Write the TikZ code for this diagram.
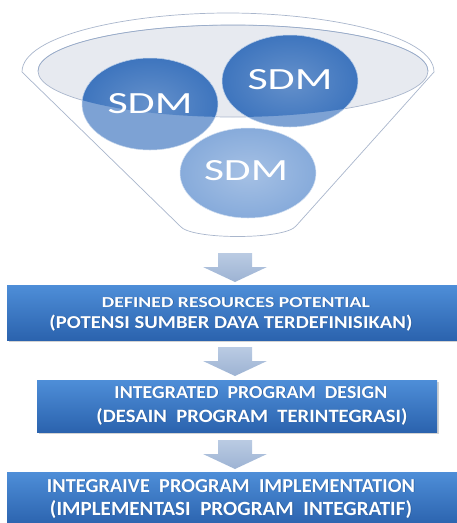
\documentclass[tikz,border=0pt]{standalone}
\usepackage{fontspec}
\setmainfont{Carlito}
\usepackage{graphicx}
\usetikzlibrary{shadows,fadings}
\definecolor{funnelline}{HTML}{A9B6CC}
\definecolor{innerfill}{HTML}{E7EAF0}
\definecolor{sdmdark}{HTML}{3E75BE}
\definecolor{sdmlight}{HTML}{7DA2D4}
\definecolor{sdmpale}{HTML}{8FB1DE}
\definecolor{boxtop}{HTML}{4E8ED8}
\definecolor{boxbot}{HTML}{2B63AE}
\definecolor{arrowtop}{HTML}{BACBE3}
\definecolor{arrowbot}{HTML}{9DB3D3}
\definecolor{textshade}{HTML}{1F4C86}
\newcommand\fitt[3]{\resizebox{#1pt}{#2pt}{#3}}
\tikzset{
  stagebox/.style={top color=boxtop, bottom color=boxbot, draw=none,
    drop shadow={shadow xshift=1.5pt, shadow yshift=-2pt, opacity=0.35}},
  flowarrow/.style={top color=arrowtop, bottom color=arrowbot, draw=none},
  sdmtext/.style={text=white, anchor=base, inner sep=0pt, font=\normalfont},
  boxtext/.style={text=white, anchor=base, inner sep=0pt, font=\bfseries},
  boxshade/.style={text=textshade, text opacity=0.6, anchor=base, inner sep=0pt, font=\bfseries},
}
\newcommand\boxline[5]{%
  \node[boxshade] at (#1+0.8,#2+0.9) {\fitt{#3}{#4}{#5}};
  \node[boxtext] at (#1,#2) {\fitt{#3}{#4}{#5}};}
\begin{document}
\begin{tikzpicture}[x=1pt,y=-1pt]
\useasboundingbox (0,0) rectangle (457,523);
% funnel body
\draw[funnelline, fill=white, line width=0.7pt]
  (22,72) .. controls (22,35) and (130,13) .. (228,13)
  .. controls (326,13) and (434,35) .. (434,72)
  -- (296,226) .. controls (285,240) and (190,240) .. (180,226) -- cycle;
% inner ellipse
\coordinate (ie) at (233,71);
\draw[funnelline, fill=innerfill, line width=0.7pt] (ie) ellipse [x radius=195, y radius=46];
% circles
\foreach \cx/\cy in {150/104, 290/81}{
  \fill[sdmlight] (\cx,\cy) ellipse [x radius=68, y radius=46];
  \begin{scope}
    \clip (ie) ellipse [x radius=195, y radius=46];
    \shade[inner color=sdmdark!80!white, outer color=sdmdark] (\cx,\cy) ellipse [x radius=68, y radius=46];
  \end{scope}
  \draw[white!70!sdmdark, line width=0.5pt] (\cx,\cy) ellipse [x radius=68, y radius=46];
}
\draw[funnelline!80!sdmdark, line width=0.5pt] (38,71) arc[start angle=180, end angle=360, x radius=195, y radius=46];
\shade[inner color=sdmpale!80!white, outer color=sdmpale!90!sdmdark] (248,173) ellipse [x radius=68, y radius=45];
\draw[white!60!sdmpale, line width=0.5pt] (248,173) ellipse [x radius=68, y radius=45];
\node[sdmtext] (sdm1) at (150,113) {\fitt{85}{20}{SDM}};
\node[sdmtext] (sdm2) at (290,89) {\fitt{85}{20}{SDM}};
\node[sdmtext] (sdm3) at (246,180) {\fitt{84}{20}{SDM}};
% arrows
\foreach \t in {253, 347, 440}{
  \path[flowarrow] (218,\t) -- (252,\t) -- (252,\t+14) -- (267,\t+14)
    -- (235,\t+29) -- (203,\t+14) -- (218,\t+14) -- cycle;
}
% boxes
\path[stagebox] (7,285) rectangle (457,340);
\path[stagebox] (37,380) rectangle (437,432);
\path[stagebox] (7,472) rectangle (457,525);
\boxline{236}{307}{268}{10}{DEFINED RESOURCES POTENTIAL}
\boxline{231}{328}{363}{13.5}{(POTENSI SUMBER DAYA TERDEFINISIKAN)}
\boxline{251}{398}{273}{12}{INTEGRATED\ \ PROGRAM\ \ DESIGN}
\boxline{252}{422}{311}{14}{(DESAIN\ \ PROGRAM\ \ TERINTEGRASI)}
\boxline{231}{492}{368}{13}{INTEGRAIVE\ \ PROGRAM\ \ IMPLEMENTATION}
\boxline{231}{515}{362}{15}{(IMPLEMENTASI\ \ PROGRAM\ \ INTEGRATIF)}
\end{tikzpicture}
\end{document}
